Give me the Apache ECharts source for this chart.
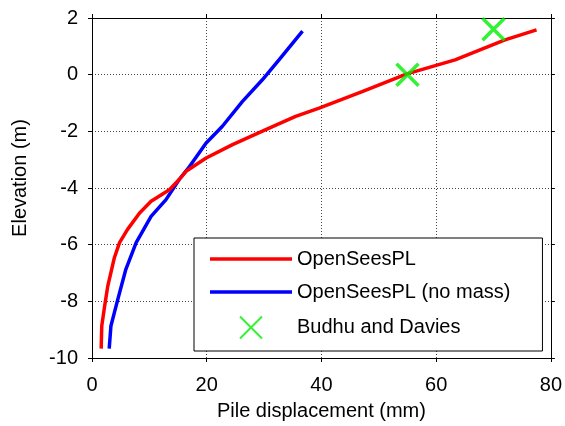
<!DOCTYPE html>
<html>
<head>
<meta charset="utf-8">
<script src="https://cdn.jsdelivr.net/npm/echarts@6/dist/echarts.min.js"></script>
<style>
html,body{margin:0;padding:0;background:#fff;}
#c{width:565px;height:426px;}
</style>
</head>
<body>
<div id="c"></div>
<script>
var seriesNames = ['OpenSeesPL', 'OpenSeesPL (no mass)', 'Budhu and Davies'];
var redDisp = [1.6, 1.7, 2.2, 2.75, 3.9, 4.8, 6.2, 8.3, 10.3, 13.5, 15.2, 16.4, 19.9, 24.5, 30.3, 35.5, 39.6, 47.1, 54.9, 63.3, 72.0, 77.5];
var redElev = [-9.67, -8.87, -8.17, -7.46, -6.46, -5.93, -5.46, -4.88, -4.47, -4.06, -3.70, -3.41, -2.94, -2.47, -1.94, -1.47, -1.18, -0.6, 0.03, 0.52, 1.23, 1.58];
var blueDisp = [3.0, 3.3, 3.9, 4.5, 5.9, 7.7, 10.3, 12.9, 15.2, 17.0, 19.9, 22.7, 26.2, 29.7, 32.6, 36.7];
var blueElev = [-9.67, -8.87, -8.4, -7.93, -6.87, -5.93, -5.0, -4.41, -3.70, -3.24, -2.41, -1.83, -0.95, -0.18, 0.52, 1.54];
var budhuDisp = [55, 70];
var budhuElev = [0, 1.6];
var xTicks = [0, 20, 40, 60, 80];
var yTicks = [-10, -8, -6, -4, -2, 0, 2];

function pairs(xs, ys) { return xs.map(function (x, i) { return [x, ys[i]]; }); }

var font = '"Liberation Sans", Arial, Helvetica, sans-serif';
var crossPath = 'path://M0,0L10,10M10,0L0,10';
var lineIcon = 'path://M0,0H80V3.5H0Z';

var chart = echarts.init(document.getElementById('c'), null, {renderer: 'canvas'});
var axisCommon = {
  axisLine: {show: true, onZero: false, lineStyle: {color: '#000', width: 1}},
  axisTick: {show: true, inside: false, length: 4, lineStyle: {color: '#000'}},
  splitLine: {show: true, lineStyle: {color: '#444', type: [1, 2], width: 1}},
  axisLabel: {color: '#000', fontFamily: font, fontSize: 20}
};
chart.setOption({
  backgroundColor: '#fff',
  animation: false,
  grid: {left: 92, right: 12, top: 18, bottom: 68, containLabel: false},
  legend: {
    orient: 'vertical',
    left: 194,
    top: 238,
    padding: [10, 32, 10, 16],
    itemWidth: 82,
    itemHeight: 22,
    itemGap: 11,
    borderColor: '#000',
    borderWidth: 1,
    backgroundColor: '#fff',
    textStyle: {color: '#000', fontFamily: font, fontSize: 20, lineHeight: 22},
    data: [
      {name: seriesNames[0], icon: lineIcon},
      {name: seriesNames[1], icon: lineIcon},
      {name: seriesNames[2]}
    ]
  },
  xAxis: [
    Object.assign({}, axisCommon, {
      type: 'value', min: xTicks[0], max: xTicks[xTicks.length - 1], interval: 20,
      name: 'Pile displacement (mm)', nameLocation: 'middle', nameGap: 43,
      nameTextStyle: {color: '#000', fontFamily: font, fontSize: 20},
      axisLabel: {color: '#000', fontFamily: font, fontSize: 20, margin: 17}
    }),
    {type: 'value', position: 'top', min: 0, max: 80, interval: 20,
     axisLine: {show: true, onZero: false, lineStyle: {color: '#000'}},
     axisTick: {show: true, inside: false, length: 4, lineStyle: {color: '#000'}},
     axisLabel: {show: false}, splitLine: {show: false}}
  ],
  yAxis: [
    Object.assign({}, axisCommon, {
      type: 'value', min: yTicks[0], max: yTicks[yTicks.length - 1], interval: 2,
      name: 'Elevation (m)', nameLocation: 'middle', nameGap: 62,
      nameTextStyle: {color: '#000', fontFamily: font, fontSize: 20, padding: [0, 0, 0, 20]},
      axisLabel: {color: '#000', fontFamily: font, fontSize: 20, margin: 14}
    }),
    {type: 'value', position: 'right', min: -10, max: 2, interval: 2,
     axisLine: {show: true, onZero: false, lineStyle: {color: '#000'}},
     axisTick: {show: true, inside: false, length: 4, lineStyle: {color: '#000'}},
     axisLabel: {show: false}, splitLine: {show: false}}
  ],
  series: [
    {
      name: seriesNames[0], type: 'line', xAxisIndex: 0, yAxisIndex: 0,
      data: pairs(redDisp, redElev), symbol: 'none', smooth: false,
      lineStyle: {color: '#ff0000', width: 3.5}, itemStyle: {color: '#ff0000'}, z: 3
    },
    {
      name: seriesNames[1], type: 'line', xAxisIndex: 0, yAxisIndex: 0,
      data: pairs(blueDisp, blueElev), symbol: 'none', smooth: false,
      lineStyle: {color: '#0000ff', width: 3.5}, itemStyle: {color: '#0000ff'}, z: 2
    },
    {
      name: seriesNames[2], type: 'scatter', xAxisIndex: 0, yAxisIndex: 0,
      data: pairs(budhuDisp, budhuElev), symbol: crossPath, symbolSize: 22,
      itemStyle: {color: 'none', borderColor: '#00ee00', borderWidth: 3.5}, z: 4
    }
  ]
});
</script>
</body>
</html>
